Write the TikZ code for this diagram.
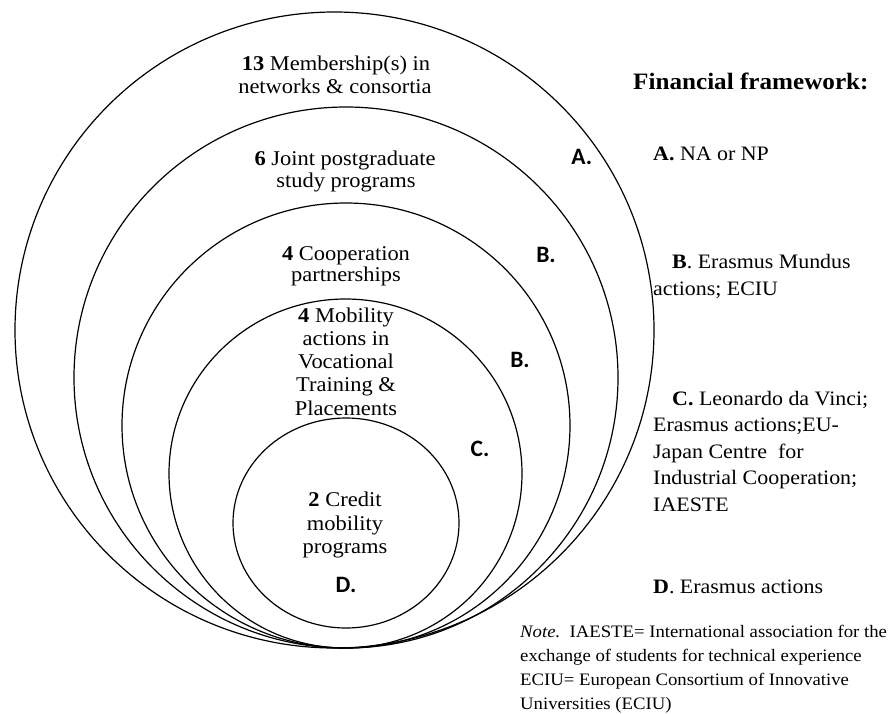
\documentclass[tikz,border=0pt]{standalone}
\usepackage{fontspec}
\setmainfont{Liberation Serif}[FakeStretch=1.07]
\newfontfamily\tagfont{Carlito}
\begin{document}
\begin{tikzpicture}[x=1pt,y=-1pt,
  ring/.style={draw=black,line width=1.2pt},
  inner/.style={anchor=base,inner sep=0pt,font=\fontsize{21}{23}\selectfont},
  tag/.style={inner sep=0pt,font=\tagfont\bfseries\fontsize{23.5}{26}\selectfont},
  side/.style={anchor=base west,inner sep=0pt,font=\fontsize{20.5}{27}\selectfont},
  note/.style={anchor=base west,inner sep=0pt,font=\fontsize{17.5}{23}\selectfont},
  head/.style={anchor=base west,inner sep=0pt,font=\bfseries\fontsize{23.5}{26}\selectfont},
]
\useasboundingbox (0,0) rectangle (892,713);
\fill[white] (0,0) rectangle (892,713);

% nested rings, all touching at the bottom
\draw[ring] (334.5,330)   ellipse [x radius=319.5, y radius=318];
\draw[ring] (346,377.5)   ellipse [x radius=272,   y radius=270.5];
\draw[ring] (346,425.5)   ellipse [x radius=224,   y radius=222.5];
\draw[ring] (345.5,473.5) ellipse [x radius=176.5, y radius=174.5];
\draw[ring] (346,523)     ellipse [x radius=113,   y radius=105];

% ring contents
\node[inner] (net1) at (336,70)    {\textbf{13} Membership(s) in};
\node[inner] (net2) at (335,93.3)  {networks \& consortia};
\node[inner] (joint1) at (345,165) {\textbf{6} Joint postgraduate};
\node[inner] (joint2) at (346,187.3) {study programs};
\node[inner] (coop1) at (346,260)  {\textbf{4} Cooperation};
\node[inner] (coop2) at (346,281.7) {partnerships};
\node[inner] (mob1) at (346,322.7) {\textbf{4} Mobility};
\node[inner] (mob2) at (346,345)   {actions in};
\node[inner] (mob3) at (346,368.3) {Vocational};
\node[inner] (mob4) at (346,391.7) {Training \&};
\node[inner] (mob5) at (346,415)   {Placements};
\node[inner] (cred1) at (345,506)  {\textbf{2} Credit};
\node[inner] (cred2) at (345,530)  {mobility};
\node[inner] (cred3) at (345,553.3) {programs};

% ring tags
\node[tag] (tagA)  at (581.7,156.7) {A.};
\node[tag] (tagB1) at (546,255)     {B.};
\node[tag] (tagB2) at (520,360)     {B.};
\node[tag] (tagC)  at (480,449)     {C.};
\node[tag] (tagD)  at (346,585)     {D.};

% financial framework legend
\node[head] (fin) at (633,89) {Financial framework:};
\node[side] (finA)  at (653,160)   {\textbf{A.} NA or NP};
\node[side] (finB1) at (672,268.3) {\textbf{B}. Erasmus Mundus};
\node[side] (finB2) at (653,295)   {actions; ECIU};
\node[side] (finC1) at (672,405)   {\textbf{C.} Leonardo da Vinci;};
\node[side] (finC2) at (653,431.5) {Erasmus actions;EU-};
\node[side] (finC3) at (653,458)   {Japan Centre \ for};
\node[side] (finC4) at (653,484.5) {Industrial Cooperation;};
\node[side] (finC5) at (653,511)   {IAESTE};
\node[side] (finD)  at (653,593)   {\textbf{D}. Erasmus actions};

% note
\node[note] (note1) at (520,637) {\textit{Note.}\ \ IAESTE= International association for the};
\node[note] (note2) at (520,661) {exchange of students for technical experience};
\node[note] (note3) at (520,685) {ECIU= European Consortium of Innovative};
\node[note] (note4) at (520,709) {Universities (ECIU)};
\end{tikzpicture}
\end{document}
